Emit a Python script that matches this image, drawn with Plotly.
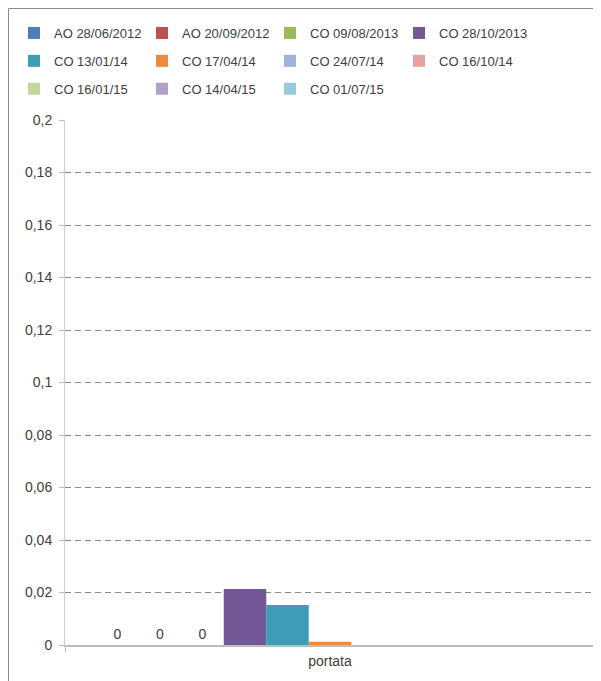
import plotly.graph_objects as go

categories = ["portata"]
series_names = ["AO 28/06/2012", "AO 20/09/2012", "CO 09/08/2013", "CO 28/10/2013",
                "CO 13/01/14", "CO 17/04/14", "CO 24/07/14", "CO 16/10/14",
                "CO 16/01/15", "CO 14/04/15", "CO 01/07/15"]
series_values = [0, 0, 0, 0.0213, 0.0152, 0.0012, None, None, None, None, None]
series_colors = ["#4F7EBD", "#C0504D", "#9BBB59", "#735796", "#3E9CB6", "#EE8A3E",
                 "#9DB3DD", "#E6A0A0", "#C4D79B", "#B1A0C7", "#93CDDD"]
ytick_vals = [0, 0.02, 0.04, 0.06, 0.08, 0.1, 0.12, 0.14, 0.16, 0.18, 0.2]
ytick_text = ["0", "0,02", "0,04", "0,06", "0,08", "0,1", "0,12", "0,14", "0,16", "0,18", "0,2"]

FONT = "Liberation Sans, Arial, sans-serif"
TXT = "#404040"
W, H = 601, 681
OFF = 8  # page offset of the figure inside the window
ML, MR, MT, MB = 65 - OFF, 6 + OFF, 120 - OFF, 36 + OFF

legend_cols = ["legend", "legend2", "legend3", "legend4"]
fig = go.Figure()
for i, (name, val, col) in enumerate(zip(series_names, series_values, series_colors)):
    fig.add_trace(go.Bar(
        x=categories, y=[val], name=name,
        marker=dict(color=col, line=dict(width=0)),
        text=["0" if val == 0 else ""], textposition="outside",
        textfont=dict(family=FONT, size=14, color=TXT),
        cliponaxis=False,
        legend=legend_cols[i % 4], legendgroup=name,
    ))

# legend columns (text start positions in window px)
col_text_x = [54, 182, 310, 439]
legend_common = dict(
    orientation="v", xref="container", yref="container",
    xanchor="left", yanchor="top", font=dict(family=FONT, size=13, color=TXT),
    bgcolor="rgba(0,0,0,0)", tracegroupgap=8, itemwidth=30,
)
for k, lname in enumerate(legend_cols):
    lx = (col_text_x[k] - 40 - OFF) / W
    fig.update_layout(**{lname: dict(x=lx, y=1 - 10 / H, **legend_common)})

# outer frame
px_to_paper_x = lambda p: (p - ML) / (W - ML - MR)
px_to_paper_y = lambda p: (H - MB - p) / (H - MT - MB)
fig.add_shape(type="rect", xref="paper", yref="paper",
              x0=px_to_paper_x(0.5), x1=px_to_paper_x(640),
              y0=px_to_paper_y(720), y1=px_to_paper_y(0.5),
              line=dict(color="#8C8C8C", width=1), fillcolor="rgba(0,0,0,0)", layer="below")

fig.update_layout(
    width=W, height=H,
    margin=dict(l=ML, r=MR, t=MT, b=MB, autoexpand=False),
    paper_bgcolor="white", plot_bgcolor="white",
    barmode="group", bargap=0.118, bargroupgap=0,
    font=dict(family=FONT, size=13, color=TXT),
    showlegend=True,
    xaxis=dict(
        showline=True, linecolor="#BDBDBD", linewidth=1.5,
        ticks="outside", tickson="boundaries", ticklen=5, tickcolor="#BDBDBD",
        showgrid=False, ticklabelstandoff=2,
        tickfont=dict(family=FONT, size=14, color=TXT),
    ),
    yaxis=dict(
        range=[0, 0.2], tickvals=ytick_vals, ticktext=ytick_text,
        showline=True, linecolor="#D0D0D0", linewidth=1,
        ticks="outside", ticklen=5, tickcolor="#BDBDBD",
        showgrid=True, gridcolor="#8A8A8A", gridwidth=1, griddash="6px,4px",
        zeroline=False, ticklabelstandoff=4,
        tickfont=dict(family=FONT, size=14, color=TXT),
    ),
)

fig.write_html("out.html")
